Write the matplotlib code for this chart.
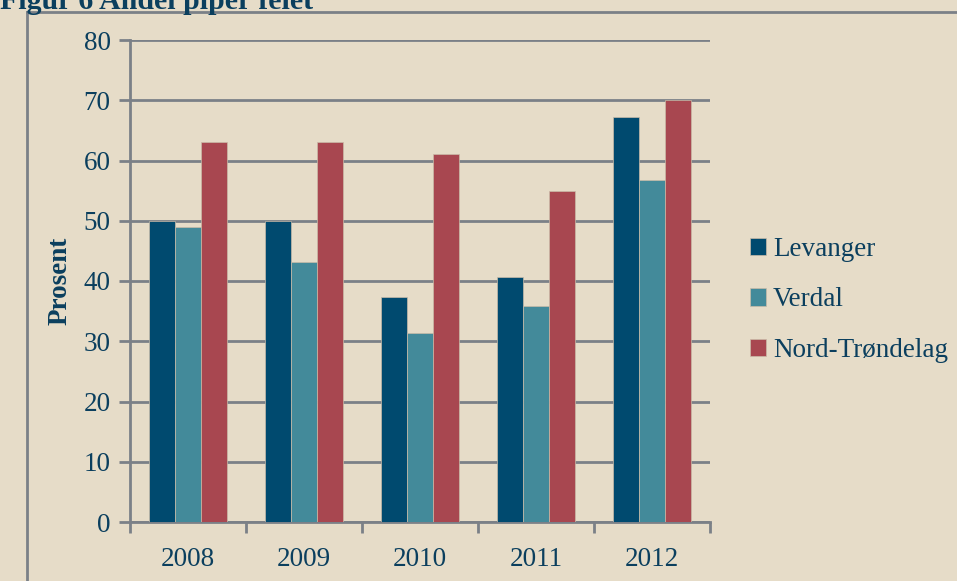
import numpy as np
import matplotlib.pyplot as plt
from matplotlib.lines import Line2D

years = ["2008", "2009", "2010", "2011", "2012"]
levanger = [50.0, 50.0, 37.4, 40.7, 67.3]
verdal = [49.0, 43.2, 31.4, 35.9, 56.8]
nord_trondelag = [63.0, 63.0, 61.0, 55.0, 70.0]
series_names = ["Levanger", "Verdal", "Nord-Trøndelag"]

bg = "#E6DCC8"
ink = "#0B3F5E"
grey = "#7B8087"
colors = ["#004A6F", "#438A9A", "#A84750"]

plt.rcParams['font.family'] = ['Liberation Serif', 'DejaVu Serif']

fig = plt.figure(figsize=(9.57, 5.81), dpi=100)
fig.patch.set_facecolor(bg)

# outer chart frame (only left and top edges visible)
fx0 = 27 / 957
fy1 = 1 - 12 / 581
fig.add_artist(Line2D([fx0, fx0], [0, fy1], transform=fig.transFigure, color=grey, lw=2))
fig.add_artist(Line2D([fx0, 1], [fy1, fy1], transform=fig.transFigure, color=grey, lw=2))
fig.text(0.0, 1 - 9 / 581, "Figur 6 Andel piper feiet", fontsize=21.5, fontweight="bold",
         color=ink, ha="left", va="baseline")

ax = fig.add_axes([130 / 957, 1 - 522 / 581, 580 / 957, 482 / 581])
ax.set_facecolor(bg)

x = np.arange(len(years))
w = 0.222
for i, (vals, name) in enumerate(zip([levanger, verdal, nord_trondelag], series_names)):
    ax.bar(x + (i - 1) * w, vals, w, color=colors[i], label=name, zorder=3,
           edgecolor="#C9BBA8", linewidth=0.5)

ax.set_xlim(-0.5, len(years) - 0.5)
ax.set_ylim(0, 80)
ax.set_yticks(np.arange(0, 81, 10))
ax.yaxis.grid(True, color=grey, lw=2, zorder=1)
ax.set_axisbelow(True)

ax.set_xticks(np.arange(-0.5, len(years), 1))
ax.set_xticklabels([])
ax.set_xticks(x, minor=True)
ax.set_xticklabels(years, minor=True)
ax.tick_params(axis="x", which="minor", length=0, pad=18)
ax.tick_params(axis="x", which="major", length=8, width=2, color=grey)
ax.tick_params(axis="y", length=8, width=2, color=grey, pad=6)
ax.tick_params(axis="both", which="both", labelsize=19.5, labelcolor=ink)

for s in ["top", "right"]:
    ax.spines[s].set_visible(False)
for s in ["left", "bottom"]:
    ax.spines[s].set_color(grey)
    ax.spines[s].set_linewidth(2)

ax.set_ylabel("Prosent", fontsize=19.5, fontweight="bold", color=ink, labelpad=8)

leg = fig.legend(loc="center left", bbox_to_anchor=(750 / 957, 1 - 300 / 581), frameon=False,
                 fontsize=19.5, handlelength=0.6, handleheight=0.6, handletextpad=0.25,
                 labelspacing=0.95, labelcolor=ink, borderaxespad=0, borderpad=0)

fig.savefig("out.png", dpi=100, facecolor=bg)
